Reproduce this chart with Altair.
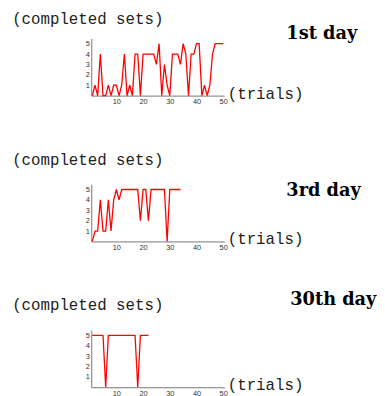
import altair as alt
import pandas as pd

# ---- data ----
day1 = [0, 1, 0, 4, 0, 0, 1, 0, 1, 1,
        0, 1, 4, 0, 1, 0, 4, 4, 0, 4,
        4, 4, 4, 4, 3, 5, 0, 3, 1, 0,
        4, 4, 4, 3, 5, 4, 0, 4, 4, 5,
        5, 0, 1, 0, 1, 4, 5, 5, 5, 5]
day3 = [0, 1, 1, 4, 1, 1, 4, 1, 4, 5,
        4, 5, 5, 5, 5, 5, 5, 5, 2, 5,
        5, 2, 5, 5, 5, 5, 5, 5, 0, 5,
        5, 5, 5, 5]
day30 = [5, 5, 5, 5, 5, 0, 5, 5, 5, 5,
         5, 5, 5, 5, 5, 5, 5, 0, 5, 5,
         5, 5]
panel_titles = ["1st day", "3rd day", "30th day"]
y_text = "(completed sets)"
x_text = "(trials)"
x_ticks = [10, 20, 30, 40, 50]
y_ticks = [1, 2, 3, 4, 5]

W, H = 135, 58
MONO = "Liberation Mono"
SERIF = "DejaVu Serif"
TICKFONT = "Liberation Sans"


def text_layer(txt, x, y, font, size, weight="normal", color="black"):
    return alt.Chart(pd.DataFrame({"t": [txt]})).mark_text(
        font=font, fontSize=size, fontWeight=weight, align="left",
        baseline="alphabetic", color=color
    ).encode(x=alt.value(x), y=alt.value(y), text="t:N")


def panel(values, title, ylab_y, title_x, title_y):
    df = pd.DataFrame({"trial": list(range(1, len(values) + 1)), "sets": values})
    line = alt.Chart(df).mark_line(color="#ff0000", strokeWidth=1.3).encode(
        x=alt.X("trial:Q",
                scale=alt.Scale(domain=[0.6, 50.4], nice=False, zero=False),
                axis=alt.Axis(values=x_ticks, title=None, grid=False, ticks=False,
                              labelPadding=2, labelFont=TICKFONT, labelFontSize=7.5,
                              labelColor="#333", domainColor="#777", domainWidth=1,
                              labelFlush=False)),
        y=alt.Y("sets:Q",
                scale=alt.Scale(domain=[0, 5.5], nice=False),
                axis=alt.Axis(values=y_ticks, title=None, grid=False, ticks=False,
                              labelPadding=2, labelFont=TICKFONT, labelFontSize=7.5,
                              labelColor="#333", domainColor="#777", domainWidth=1)),
    )
    layers = [
        line,
        text_layer(y_text, -80.3, ylab_y, MONO, 16, color="#222"),
        text_layer(x_text, 138.5, 61, MONO, 16, color="#222"),
        text_layer(title, title_x, title_y, SERIF, 18, "bold"),
    ]
    return alt.layer(*layers).properties(width=W, height=H)


p1 = panel(day1, panel_titles[0], -14.7, 198, 0.3)
p2 = panel(day3, panel_titles[1], -19.7, 198, 12)
p3 = panel(day30, panel_titles[2], -20.7, 202, -25.7)

chart = alt.vconcat(p1, p2, p3, spacing=90, bounds="flush").properties(
    padding={"left": 3.5, "top": 0, "right": 0, "bottom": 0},
    background="white",
).configure_view(stroke=None)

chart.save("out.html", embed_options={"renderer": "svg", "actions": False})
